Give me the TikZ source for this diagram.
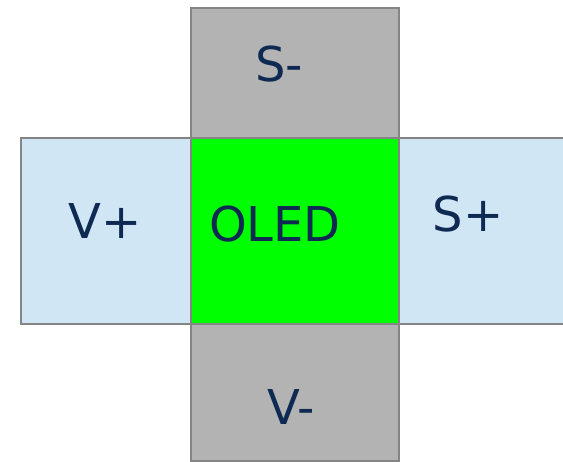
\documentclass[tikz,border=0pt]{standalone}
\usepackage{fontspec}
\setmainfont{DejaVu Sans}
\definecolor{padgray}{HTML}{B3B3B3}
\definecolor{edgegray}{HTML}{858585}
\definecolor{padblue}{HTML}{D0E6F4}
\definecolor{oledgreen}{HTML}{00FF00}
\definecolor{labelnavy}{HTML}{0E2A52}
\begin{document}
\begin{tikzpicture}[x=1pt,y=-1pt,
  pad/.style={draw=edgegray,line width=2pt},
  lbl/.style={anchor=base,inner sep=0pt,text=labelnavy,font=\fontsize{48}{48}\selectfont}]
\useasboundingbox (0,0) rectangle (563,462);
\clip (0,0) rectangle (563,462);
\fill[white] (0,0) rectangle (563,462);
\draw[pad,fill=padblue] (21,138) rectangle (191,324);
\draw[pad,fill=padblue] (399,138) rectangle (575,324);
\draw[pad,fill=padgray] (191,8) rectangle (399,138);
\draw[pad,fill=padgray] (191,324) rectangle (399,461);
\draw[pad,fill=oledgreen] (191,138) rectangle (399,324);
\node[lbl] (sminus) at (279,82) {S-};
\node[lbl] (vplus) at (105,239) {V+};
\node[lbl] (splus) at (468,232) {S+};
\node[lbl] (vminus) at (291,425) {V-};
\node[lbl] (oled) at (275,242) {OLED};
\end{tikzpicture}
\end{document}
